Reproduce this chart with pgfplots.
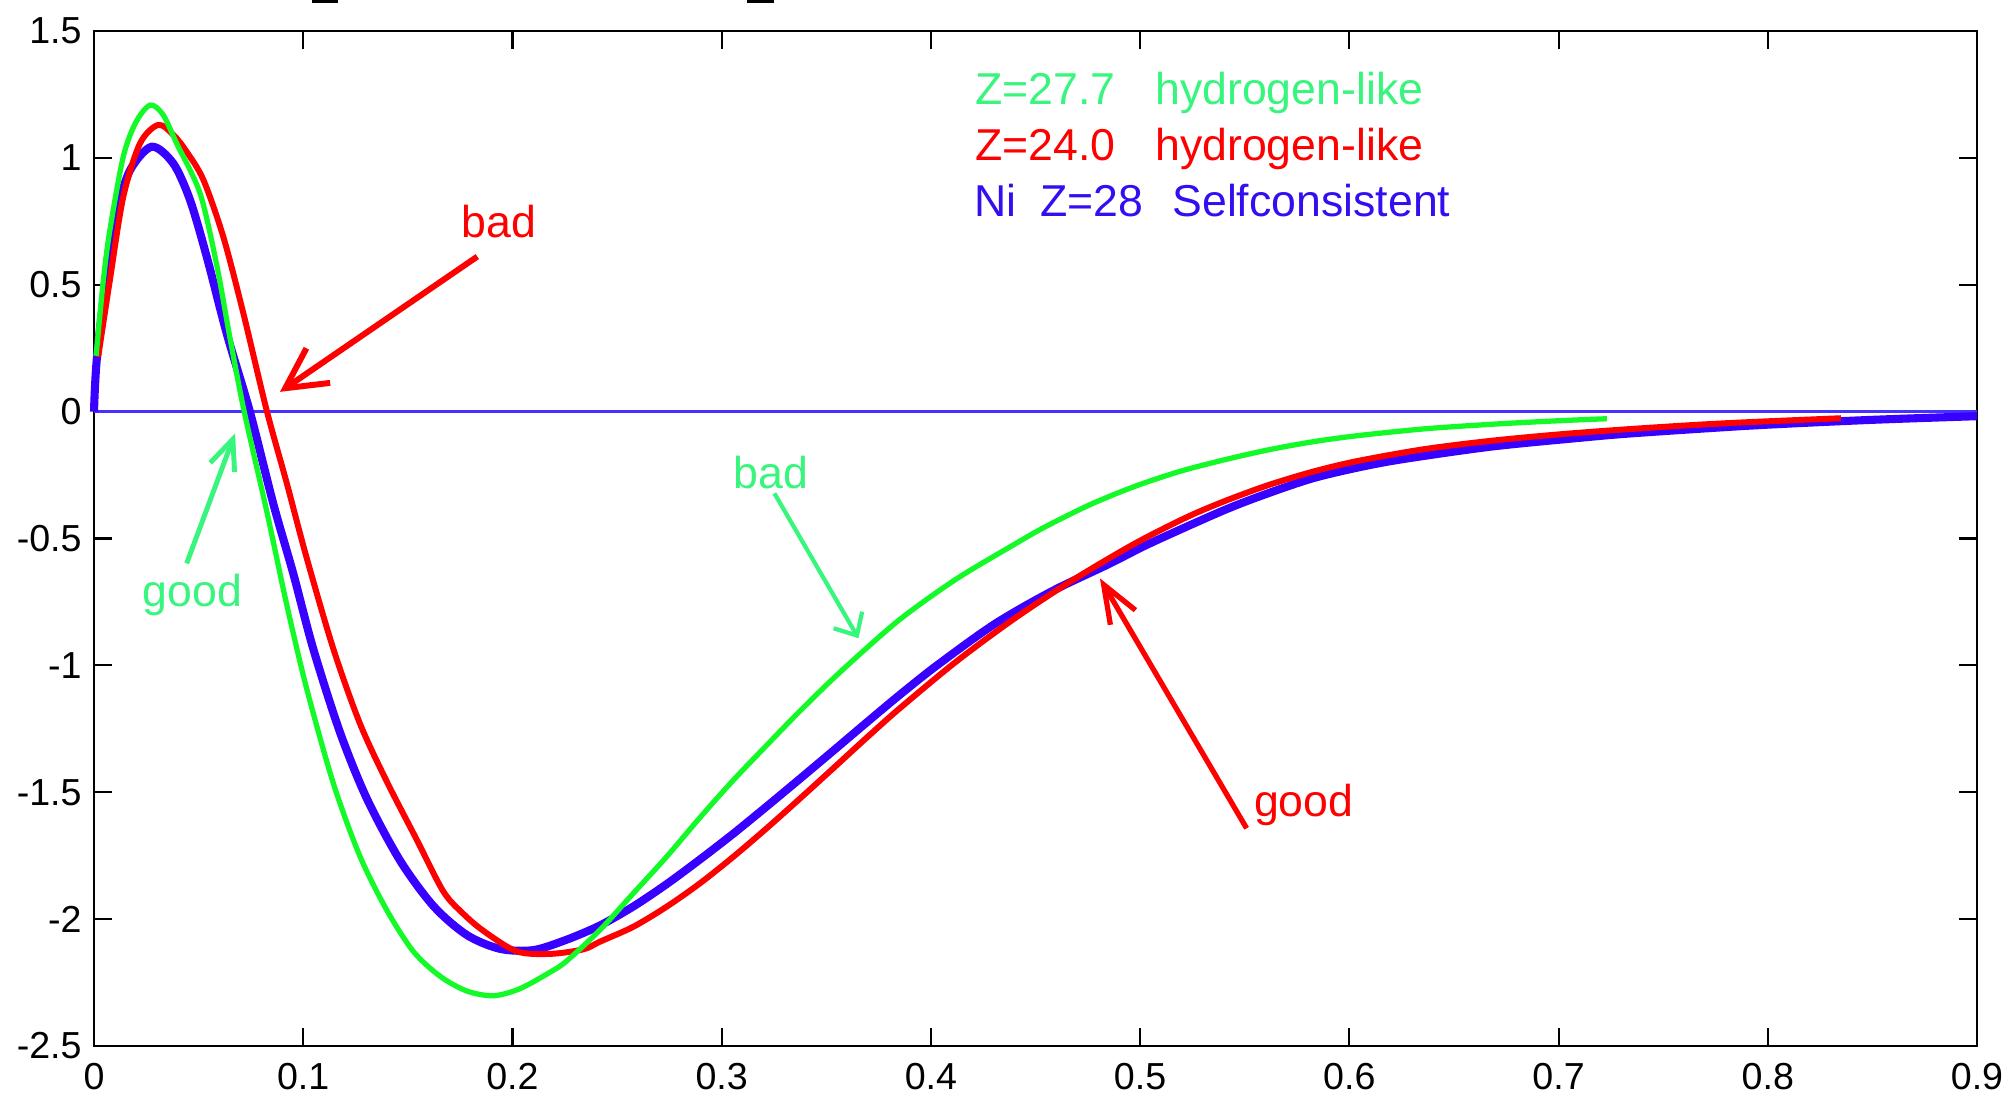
\documentclass[border=0pt]{standalone}
\usepackage{pgfplots}
\pgfplotsset{compat=1.18}
\usepackage{fontspec}
\setmainfont{Liberation Sans}
\usetikzlibrary{arrows.meta}
\definecolor{cgreen}{RGB}{20,250,40}
\definecolor{cred}{RGB}{255,0,0}
\definecolor{cblue}{RGB}{55,0,255}
\definecolor{czero}{RGB}{70,50,255}
\definecolor{tgreen}{RGB}{55,245,125}
\definecolor{tblue}{RGB}{50,15,240}

\pgfplotstableread{
x y
0.001 0.22
0.0045 0.52
0.0076 0.716
0.014 1.005
0.020 1.14
0.0268 1.208
0.033 1.17
0.0395 1.057
0.0507 0.86
0.0586 0.58
0.065 0.29
0.0718 0.0
0.0825 -0.39
0.0921 -0.76
0.1016 -1.09
0.1144 -1.465
0.1271 -1.752
0.1399 -1.964
0.1526 -2.127
0.1654 -2.225
0.1781 -2.283
0.1909 -2.302
0.2036 -2.274
0.218 -2.209
0.2259 -2.165
0.2418 -2.043
0.2578 -1.898
0.2737 -1.754
0.2896 -1.600
0.3056 -1.452
0.3215 -1.315
0.3374 -1.18
0.3572 -1.022
0.3847 -0.822
0.4121 -0.66
0.4395 -0.525
0.4544 -0.455
0.4757 -0.368
0.497 -0.296
0.5184 -0.237
0.5397 -0.191
0.5611 -0.151
0.5824 -0.119
0.6037 -0.095
0.6357 -0.068
0.6677 -0.050
0.6997 -0.036
0.7231 -0.028
}\greendata

\pgfplotstableread{
x y
0.002 0.216
0.0076 0.519
0.014 0.847
0.022 1.057
0.0307 1.13
0.038 1.09
0.0443 1.024
0.0523 0.913
0.0618 0.689
0.0714 0.387
0.0825 0.006
0.0921 -0.281
0.1016 -0.575
0.1144 -0.935
0.1271 -1.229
0.1399 -1.457
0.1542 -1.686
0.1669 -1.890
0.176 -1.975
0.1861 -2.046
0.202 -2.127
0.218 -2.137
0.2339 -2.119
0.2418 -2.089
0.2578 -2.030
0.2737 -1.951
0.2896 -1.859
0.3056 -1.754
0.3215 -1.642
0.3374 -1.525
0.3534 -1.405
0.3693 -1.285
0.3850 -1.17
0.4121 -0.985
0.4395 -0.818
0.467 -0.668
0.497 -0.522
0.5218 -0.418
0.5397 -0.355
0.5611 -0.29
0.5824 -0.237
0.6037 -0.195
0.6357 -0.148
0.6677 -0.115
0.6997 -0.09
0.7318 -0.07
0.7659 -0.052
0.792 -0.041
0.835 -0.026
}\reddata

\pgfplotstableread{
x y
0 0
0.0013 0.203
0.0061 0.55
0.0108 0.781
0.0172 0.951
0.0276 1.044
0.0379 0.978
0.0459 0.834
0.0539 0.61
0.0634 0.309
0.0745 0.0
0.0857 -0.363
0.0953 -0.640
0.1048 -0.935
0.1175 -1.262
0.1303 -1.523
0.1462 -1.768
0.1622 -1.948
0.1781 -2.062
0.194 -2.117
0.21 -2.122
0.2259 -2.081
0.2418 -2.025
0.2578 -1.95
0.2737 -1.862
0.2896 -1.765
0.3056 -1.663
0.3215 -1.556
0.3374 -1.447
0.3534 -1.336
0.3693 -1.225
0.3850 -1.117
0.4029 -1.0
0.4303 -0.838
0.4578 -0.708
0.4852 -0.600
0.505 -0.518
0.5397 -0.39
0.5611 -0.322
0.5824 -0.263
0.6037 -0.221
0.625 -0.188
0.6677 -0.138
0.7104 -0.103
0.736 -0.085
0.792 -0.055
0.848 -0.033
0.9 -0.018
}\bluedata

\begin{document}
\begin{tikzpicture}
\begin{axis}[
  scale only axis,
  width=188.3mm, height=101.5mm,
  xmin=0, xmax=0.9, ymin=-2.5, ymax=1.5,
  clip=false,
  axis line style={black, line width=0.8pt},
  xtick={0,0.1,0.2,0.3,0.4,0.5,0.6,0.7,0.8,0.9},
  xticklabels={0,0.1,0.2,0.3,0.4,0.5,0.6,0.7,0.8,0.9},
  ytick={-2.5,-2,-1.5,-1,-0.5,0,0.5,1,1.5},
  yticklabels={-2.5,-2,-1.5,-1,-0.5,0,0.5,1,1.5},
  xtick pos=both, ytick pos=both,
  xticklabel pos=lower, yticklabel pos=left,
  tick align=inside,
  major tick length=1.8mm,
  tick style={black, line width=0.6pt},
  ticklabel style={font=\fontsize{10.7}{12}\selectfont, text=black},
  xticklabel style={yshift=-0.45mm},
]
\addplot[czero, line width=0.65pt] coordinates {(0,0) (0.9,0)};
\addplot[cblue, line width=2.3pt, smooth, tension=0.5] table[x=x,y=y] {\bluedata};
\addplot[cred, line width=1.7pt, smooth, tension=0.5] table[x=x,y=y] {\reddata};
\addplot[cgreen, line width=1.5pt, smooth, tension=0.5] table[x=x,y=y] {\greendata};

% legend text
\begin{scope}[every node/.style={inner sep=0pt, anchor=base west, font=\fontsize{12.7}{14}\selectfont}]
\node[text=tgreen] at (axis cs:0.4208,1.212) {Z=27.7};
\node[text=tgreen] at (axis cs:0.5069,1.212) {hydrogen-like};
\node[text=cred] at (axis cs:0.4208,0.991) {Z=24.0};
\node[text=cred] at (axis cs:0.5069,0.991) {hydrogen-like};
\node[text=tblue] at (axis cs:0.4203,0.768) {Ni};
\node[text=tblue] at (axis cs:0.452,0.768) {Z=28};
\node[text=tblue] at (axis cs:0.5151,0.768) {Selfconsistent};
\end{scope}

% annotations
\begin{scope}[every node/.style={inner sep=0pt, font=\fontsize{12.7}{14}\selectfont}]
\node[text=cred, anchor=base] at (axis cs:0.1936,0.6865) {bad};
\node[text=tgreen, anchor=base] at (axis cs:0.047,-0.769) {good};
\node[text=tgreen, anchor=base] at (axis cs:0.3234,-0.302) {bad};
\node[text=cred, anchor=base west] at (axis cs:0.5541,-1.596) {good};
\end{scope}
\draw[cred, line width=1.7pt, -{Straight Barb[length=4mm,width=4.2mm]}] (axis cs:0.1832,0.611) -- (axis cs:0.0889,0.078);
\draw[tgreen, line width=1.4pt, -{Straight Barb[length=3mm,width=2.6mm]}] (axis cs:0.0443,-0.598) -- (axis cs:0.0674,-0.086);
\draw[tgreen, line width=1.2pt, -{Straight Barb[length=1.8mm,width=3.3mm]}] (axis cs:0.3252,-0.322) -- (axis cs:0.3654,-0.893);
\draw[cred, line width=1.5pt, -{Straight Barb[length=3.8mm,width=2.9mm]}] (axis cs:0.5509,-1.642) -- (axis cs:0.4808,-0.657);

% cut-off title fragments at top edge
\draw[black, line width=0.35mm] (rel axis cs:0.116,1.029) -- (rel axis cs:0.1296,1.029);
\draw[black, line width=0.35mm] (rel axis cs:0.347,1.029) -- (rel axis cs:0.361,1.029);
\end{axis}
\pgfresetboundingbox
\path[use as bounding box] ([xshift=-9.4mm,yshift=-5.3mm]current axis.south west) rectangle ([xshift=3.5mm,yshift=3.1mm]current axis.north east);
\end{tikzpicture}
\end{document}
